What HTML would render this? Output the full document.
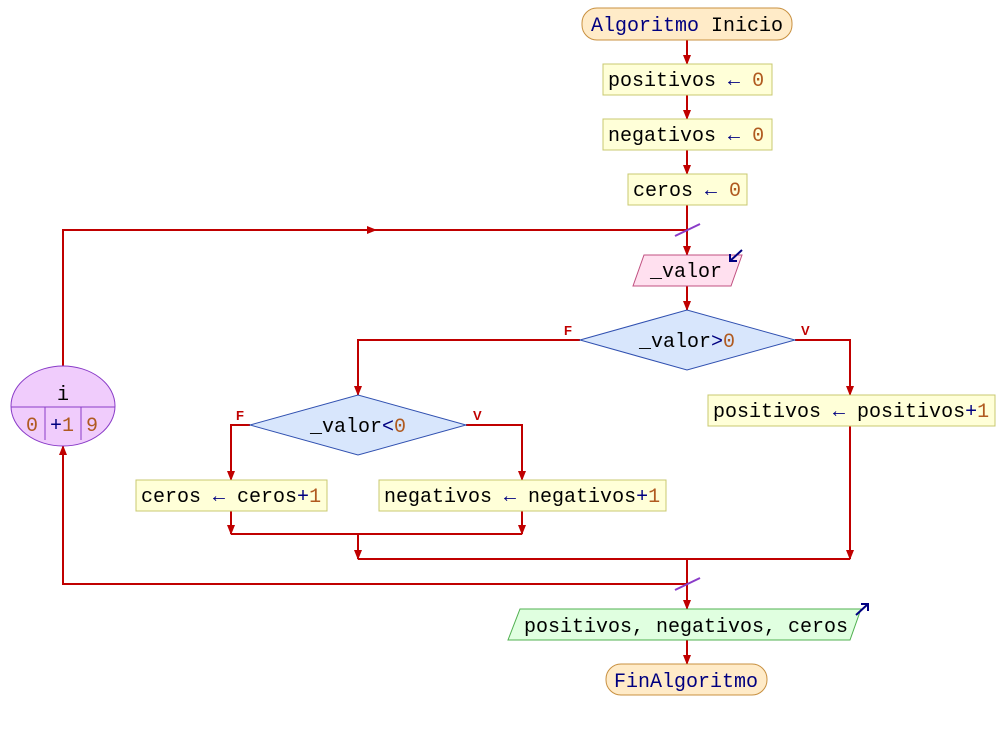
<!DOCTYPE html>
<html><head><meta charset="utf-8"><style>
html,body{margin:0;padding:0;background:#fff;width:1005px;height:730px;overflow:hidden}
svg text{font-family:"Liberation Mono","DejaVu Sans Mono",monospace;font-size:20px;fill:#000}
.k{fill:#000080}.n{fill:#b05a20}.lb{font-family:"Liberation Sans",sans-serif;font-size:13px;font-weight:bold;fill:#c00000}
</style></head><body>
<svg width="1005" height="730" viewBox="0 0 1005 730" xmlns="http://www.w3.org/2000/svg">
<defs>
<marker id="a" markerWidth="10" markerHeight="8" refX="9" refY="4" orient="auto" markerUnits="userSpaceOnUse"><path d="M0,0 L10,4 L0,8 z" fill="#c00000"/></marker>
</defs>
<g stroke="#c00000" stroke-width="2" fill="none">
<line x1="687" y1="40" x2="687" y2="64" marker-end="url(#a)"/>
<line x1="687" y1="95" x2="687" y2="119" marker-end="url(#a)"/>
<line x1="687" y1="150" x2="687" y2="174" marker-end="url(#a)"/>
<line x1="687" y1="205" x2="687" y2="255" marker-end="url(#a)"/>
<line x1="687" y1="286" x2="687" y2="310" marker-end="url(#a)"/>
<polyline points="63,366 63,230 687,230"/>
<line x1="63" y1="230" x2="376" y2="230" marker-end="url(#a)"/>
<polyline points="580,340 358,340 358,395" marker-end="url(#a)"/>
<polyline points="795,340 850,340 850,395" marker-end="url(#a)"/>
<polyline points="250,425 231,425 231,480" marker-end="url(#a)"/>
<polyline points="466,425 522,425 522,480" marker-end="url(#a)"/>
<line x1="231" y1="511" x2="231" y2="534" marker-end="url(#a)"/>
<line x1="522" y1="511" x2="522" y2="534" marker-end="url(#a)"/>
<line x1="231" y1="534" x2="522" y2="534"/>
<line x1="358" y1="534" x2="358" y2="559" marker-end="url(#a)"/>
<line x1="850" y1="426" x2="850" y2="559" marker-end="url(#a)"/>
<line x1="358" y1="559" x2="850" y2="559"/>
<line x1="687" y1="559" x2="687" y2="609" marker-end="url(#a)"/>
<polyline points="687,584 63,584 63,446" marker-end="url(#a)"/>
<line x1="687" y1="640" x2="687" y2="664" marker-end="url(#a)"/>
</g>
<line x1="675" y1="236" x2="700" y2="224" stroke="#8a3cc8" stroke-width="2"/>
<line x1="675" y1="590" x2="700" y2="578" stroke="#8a3cc8" stroke-width="2"/>

<rect x="582" y="8" width="210" height="32" rx="15" fill="#ffebc8" stroke="#c89040"/>
<text x="687" y="31" text-anchor="middle"><tspan class="k">Algoritmo</tspan> Inicio</text>

<rect x="603" y="64" width="169" height="31" fill="#ffffd8" stroke="#c8c870"/>
<text x="608" y="86">positivos <tspan class="k">←</tspan> <tspan class="n">0</tspan></text>
<rect x="603" y="119" width="169" height="31" fill="#ffffd8" stroke="#c8c870"/>
<text x="608" y="141">negativos <tspan class="k">←</tspan> <tspan class="n">0</tspan></text>
<rect x="628" y="174" width="119" height="31" fill="#ffffd8" stroke="#c8c870"/>
<text x="633" y="196">ceros <tspan class="k">←</tspan> <tspan class="n">0</tspan></text>

<polygon points="644,255 742,255 731,286 633,286" fill="#ffe0ef" stroke="#c05080"/>
<text x="650" y="277">_valor</text>
<line x1="742" y1="250" x2="730" y2="261" stroke="#000080" stroke-width="2"/>
<polyline points="730,254 730,261 737,261" stroke="#000080" stroke-width="2" fill="none"/>

<polygon points="580,340 687,310 795,340 687,370" fill="#d8e6fc" stroke="#3050b0"/>
<text x="687" y="347" text-anchor="middle">_valor<tspan class="k">&gt;</tspan><tspan class="n">0</tspan></text>
<text class="lb" x="564" y="335">F</text>
<text class="lb" x="801" y="335">V</text>

<polygon points="250,425 358,395 466,425 358,455" fill="#d8e6fc" stroke="#3050b0"/>
<text x="358" y="432" text-anchor="middle">_valor<tspan class="k">&lt;</tspan><tspan class="n">0</tspan></text>
<text class="lb" x="236" y="420">F</text>
<text class="lb" x="473" y="420">V</text>

<rect x="708" y="395" width="287" height="31" fill="#ffffd8" stroke="#c8c870"/>
<text x="713" y="417">positivos <tspan class="k">←</tspan> positivos<tspan class="k">+</tspan><tspan class="n">1</tspan></text>
<rect x="136" y="480" width="191" height="31" fill="#ffffd8" stroke="#c8c870"/>
<text x="141" y="502">ceros <tspan class="k">←</tspan> ceros<tspan class="k">+</tspan><tspan class="n">1</tspan></text>
<rect x="379" y="480" width="287" height="31" fill="#ffffd8" stroke="#c8c870"/>
<text x="384" y="502">negativos <tspan class="k">←</tspan> negativos<tspan class="k">+</tspan><tspan class="n">1</tspan></text>

<ellipse cx="63" cy="406" rx="52" ry="40" fill="#f0ccfc" stroke="#8a3cc8"/>
<line x1="11" y1="407" x2="115" y2="407" stroke="#8a3cc8"/>
<line x1="45" y1="407" x2="45" y2="440" stroke="#8a3cc8"/>
<line x1="81" y1="407" x2="81" y2="440" stroke="#8a3cc8"/>
<text x="63" y="400" text-anchor="middle">i</text>
<text x="26" y="431" class="n">0</text>
<text x="50" y="431"><tspan class="k">+</tspan><tspan class="n">1</tspan></text>
<text x="86" y="431" class="n">9</text>

<polygon points="520,609 861,609 850,640 508,640" fill="#e0ffe0" stroke="#50b050"/>
<text x="524" y="632">positivos, negativos, ceros</text>
<line x1="856" y1="615" x2="868" y2="604" stroke="#000080" stroke-width="2"/>
<polyline points="861,604 868,604 868,611" stroke="#000080" stroke-width="2" fill="none"/>

<rect x="606" y="664" width="161" height="31" rx="15" fill="#ffebc8" stroke="#c89040"/>
<text x="686" y="687" text-anchor="middle" class="k">FinAlgoritmo</text>
</svg>
</body></html>
